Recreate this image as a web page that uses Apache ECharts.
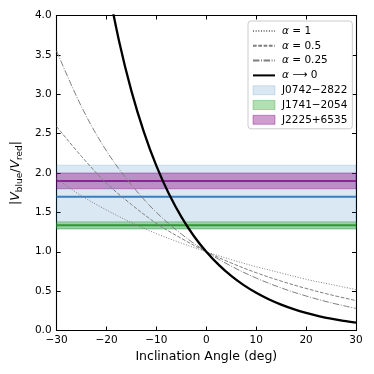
<!DOCTYPE html>
<html>
<head>
<meta charset="utf-8">
<script src="https://cdn.jsdelivr.net/npm/echarts@6/dist/echarts.min.js"></script>
<style>
  html, body { margin: 0; padding: 0; background: #fff; }
  #chart { width: 374px; height: 374px; }
</style>
</head>
<body>
<div id="chart"></div>
<script>
// ── data ──
const angles = [-30, -25, -20, -15, -10, -5, 0, 5, 10, 15, 20, 25, 30];
const alpha1 = [1.93, 1.71, 1.53, 1.37, 1.23, 1.11, 1.00, 0.90, 0.81, 0.73, 0.65, 0.585, 0.52];
const alpha05 = [2.59, 2.21, 1.87, 1.60, 1.36, 1.17, 1.00, 0.857, 0.734, 0.627, 0.534, 0.452, 0.38];
const alpha025 = [3.55, 2.84, 2.28, 1.85, 1.50, 1.225, 1.00, 0.817, 0.666, 0.541, 0.438, 0.352, 0.28];

const anglesFine = [-20, -17.5, -15, -12.5, -10, -7.5, -5, -2.5, 0, 2.5, 5, 7.5, 10, 12.5, 15, 17.5, 20, 22.5, 25, 27.5, 30];
const alpha0 = [4.47, 3.68, 3.04, 2.52, 2.09, 1.735, 1.443, 1.20, 1.00, 0.833, 0.693, 0.576, 0.479, 0.397, 0.329, 0.272, 0.224, 0.184, 0.150, 0.123, 0.10];

const curveNames = ['α = 1', 'α = 0.5', 'α = 0.25', 'α ⟶ 0'];

const bandNames = ['J0742−2822', 'J1741−2054', 'J2225+6535'];
const bandCenter = [1.70, 1.335, 1.90];
const bandLow = [1.29, 1.29, 1.80];
const bandHigh = [2.10, 1.38, 2.00];

const xTicks = { min: -30, max: 30, step: 10 };
const yTicks = { min: 0, max: 4, step: 0.5 };

// ── styles ──
const FONT = 'DejaVu Sans';
const bandFill = ['rgba(31,119,180,0.17)', 'rgba(44,160,44,0.35)', 'rgba(128,0,128,0.38)'];
const bandLine = ['#3b7dbf', '#2c9a2c', '#800080'];
const bandLineW = [2, 2, 1.5];

const pair = (xs, ys) => xs.map((x, i) => [x, ys[i]]);
const minus = v => String(v).replace('-', '\u2212');

const chart = echarts.init(document.getElementById('chart'), null, { renderer: 'canvas' });

const series = [];
bandNames.forEach((name, i) => {
  series.push({
    name: name,
    type: 'line',
    symbol: 'none',
    z: 2 + i,
    data: [[xTicks.min, bandCenter[i]], [xTicks.max, bandCenter[i]]],
    lineStyle: { color: bandLine[i], width: bandLineW[i] },
    itemStyle: { color: bandFill[i] },
    markArea: {
      silent: true,
      itemStyle: { color: bandFill[i], borderColor: bandFill[i], borderWidth: 1 },
      data: [[{ yAxis: bandLow[i] }, { yAxis: bandHigh[i] }]],
    },
  });
});

const grayStyles = [
  { type: [1, 1.65], width: 1 },
  { type: [3.7, 1.6], width: 1 },
  { type: [6.4, 1.6, 1, 1.6], width: 1 },
];
[alpha1, alpha05, alpha025].forEach((vals, i) => {
  series.push({
    name: curveNames[i],
    type: 'line',
    symbol: 'none',
    smooth: 0.35,
    z: 6,
    data: pair(angles, vals),
    lineStyle: { color: '#7f7f7f', width: grayStyles[i].width, type: grayStyles[i].type },
    itemStyle: { color: '#7f7f7f' },
  });
});
series.push({
  name: curveNames[3],
  type: 'line',
  symbol: 'none',
  smooth: 0.35,
  clip: true,
  z: 7,
  data: pair(anglesFine, alpha0),
  lineStyle: { color: '#000', width: 2.3 },
  itemStyle: { color: '#000' },
});

const axisLine = { show: true, onZero: false, lineStyle: { color: '#000', width: 1.1 } };
const tickIn = { show: true, inside: true, length: 4, lineStyle: { color: '#000', width: 1 } };
const tickLabel = { color: '#000', fontFamily: FONT, fontSize: 10.5 };

const legendData = curveNames.map(n => ({ name: n, itemStyle: { opacity: 0, borderWidth: 0 } }))
  .concat(bandNames.map((n, i) => ({
    name: n, icon: 'rect',
    itemStyle: { color: bandFill[i], borderColor: bandFill[i], borderWidth: 1 },
  })));

chart.setOption({
  animation: false,
  backgroundColor: '#fff',
  grid: { left: 52, right: 18, top: 15.5, bottom: 43.5, containLabel: false },
  xAxis: [{
    type: 'value', min: xTicks.min, max: xTicks.max, interval: xTicks.step,
    axisLine: axisLine, axisTick: tickIn, splitLine: { show: false },
    axisLabel: Object.assign({ margin: 4, formatter: v => minus(v) }, tickLabel),
    name: 'Inclination Angle (deg)', nameLocation: 'middle', nameGap: 19,
    nameTextStyle: { color: '#000', fontFamily: FONT, fontSize: 12.5 },
  }, {
    type: 'value', position: 'top', min: xTicks.min, max: xTicks.max, interval: xTicks.step,
    axisLine: axisLine, axisTick: tickIn, splitLine: { show: false }, axisLabel: { show: false },
  }],
  yAxis: [{
    type: 'value', min: yTicks.min, max: yTicks.max, interval: yTicks.step,
    axisLine: axisLine, axisTick: tickIn, splitLine: { show: false },
    axisLabel: Object.assign({ margin: 5, formatter: v => v.toFixed(1) }, tickLabel),
    name: '|{v|V}{s|blue}/{v|V}{s|red}|', nameLocation: 'middle', nameGap: 23, nameRotate: 90,
    nameTextStyle: {
      color: '#000', fontFamily: FONT, fontSize: 12.5, lineHeight: 16,
      rich: {
        v: { fontFamily: FONT, fontStyle: 'italic', fontSize: 12.5, color: '#000', lineHeight: 16 },
        s: { fontFamily: FONT, fontSize: 9, color: '#000', lineHeight: 16, verticalAlign: 'bottom', padding: [5, 0, 0, 0] },
      },
    },
  }, {
    type: 'value', position: 'right', min: yTicks.min, max: yTicks.max, interval: yTicks.step,
    axisLine: axisLine, axisTick: tickIn, splitLine: { show: false }, axisLabel: { show: false },
  }],
  legend: {
    orient: 'vertical', left: 248, top: 21,
    data: legendData,
    itemWidth: 22, itemHeight: 9, itemGap: 2.8,
    padding: [4, 5, 3, 4],
    borderColor: '#cccccc', borderWidth: 1, borderRadius: 3,
    backgroundColor: 'rgba(255,255,255,0.85)',
    selectedMode: false,
    formatter: name => name.startsWith('α') ? '{a|α}' + name.slice(1) : name,
    textStyle: {
      color: '#000', fontFamily: FONT, fontSize: 10.5, lineHeight: 12, padding: [0, 0, 0, 2],
      rich: { a: { fontFamily: FONT, fontStyle: 'italic', fontSize: 10.5, color: '#000', lineHeight: 12 } },
    },
  },
  series: series,
});
</script>
</body>
</html>
